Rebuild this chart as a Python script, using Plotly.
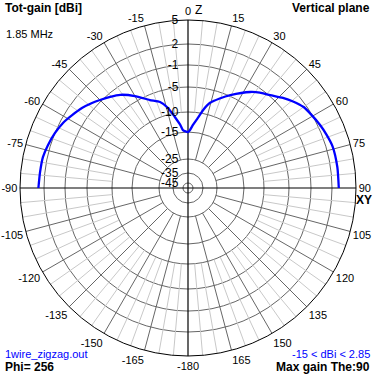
import numpy as np
import plotly.graph_objects as go

# ---- data (theta from zenith, clockwise; gain in dBi) ----
theta_deg = [-90, -84, -78, -73, -67.5, -62.5, -58, -53, -48.5, -45, -40.5, -36, -30,
             -23.5, -18, -14, -10.5, -7, -5, 0, 2, 4.5, 8, 11, 14.5, 19.5, 24.5, 33,
             37, 41.5, 46.5, 50.5, 55, 59.5, 64.5, 69, 74, 82, 90]
gain_dbi = [2.7, 2.6, 2.54, 2.31, 1.99, 1.56, 1.0, 0.4, -0.26, -0.79, -1.56, -2.42, -4.05,
            -6.02, -7.12, -8.7, -10.95, -13.1, -14.45, -15.0, -14.5, -13.2, -11.3, -9.3,
            -7.6, -6.2, -4.8, -2.55, -1.65, -0.86, 0.13, 0.87, 1.59, 1.94, 2.29, 2.56,
            2.81, 2.85, 2.85]

ring_db = [5, 2, -1, -5, -10, -15, -25, -35, -45]
ring_labels = ["5", "2", "-1", "-5", "-10", "-15", "-25", "-35", "-45"]
angle_ticks = list(range(0, 360, 15))
angle_labels = [str(a) if a < 180 else str(a - 360) for a in angle_ticks]

# ---- radial (log-like) scale of the plot: dBi -> radius units ----
SCALE_DB = [-45, -35, -25, -15, -10, -5, -1, 2, 5]
SCALE_R = [5, 15, 29, 56, 76, 101, 123, 144, 168]


def to_r(g):
    return np.interp(g, SCALE_DB, SCALE_R)


RMAX = to_r(5)
ring_r = [float(to_r(g)) for g in ring_db]

W, H = 374, 375
fig = go.Figure()

# spokes
dark_r, dark_t, light_r, light_t, blk_r, blk_t = [], [], [], [], [], []
for a in range(0, 360, 5):
    if a % 90 == 0:
        blk_r += [0, RMAX, None]
        blk_t += [a, a, None]
    elif a % 15 == 0:
        dark_r += [float(to_r(-25)), RMAX, None]
        dark_t += [a, a, None]
    else:
        light_r += [float(to_r(-10)), RMAX, None]
        light_t += [a, a, None]

fig.add_trace(go.Scatterpolar(r=light_r, theta=light_t, mode="lines",
                              line=dict(color="#c8c8c8", width=1), hoverinfo="skip"))
fig.add_trace(go.Scatterpolar(r=dark_r, theta=dark_t, mode="lines",
                              line=dict(color="#666666", width=1), hoverinfo="skip"))
fig.add_trace(go.Scatterpolar(r=blk_r, theta=blk_t, mode="lines",
                              line=dict(color="black", width=1.2), hoverinfo="skip"))

fig.add_trace(go.Scatterpolar(r=to_r(np.array(gain_dbi)), theta=theta_deg, mode="lines",
                              line=dict(color="#0000ff", width=2.3, shape="spline",
                                        smoothing=0.6), hoverinfo="skip"))

x0, x1 = 20 / W, 356 / W
y0, y1 = 1 - 356 / H, 1 - 20 / H

fig.update_layout(
    width=W, height=H,
    margin=dict(l=0, r=0, t=0, b=0),
    paper_bgcolor="white", plot_bgcolor="white",
    showlegend=False,
    font=dict(family="Liberation Sans, Arial, sans-serif", size=11, color="black"),
    polar=dict(
        domain=dict(x=[x0, x1], y=[y0, y1]),
        bgcolor="white",
        angularaxis=dict(rotation=90, direction="clockwise",
                         tickmode="array", tickvals=angle_ticks, ticktext=angle_labels,
                         showgrid=False, showline=True, linecolor="black", linewidth=1,
                         ticks="", tickfont=dict(size=11, color="black")),
        radialaxis=dict(range=[0, RMAX], angle=90, tickangle=90,
                        tickmode="array", tickvals=ring_r, ticktext=ring_labels,
                        showgrid=True, gridcolor="#666666", gridwidth=1,
                        showline=False, ticks="outside", ticklen=5,
                        tickcolor="rgba(0,0,0,0)", side="counterclockwise",
                        tickfont=dict(size=12, color="black")),
    ),
)


def ann(text, xpix, ypix, xanchor, size=11, bold=False, color="black"):
    fig.add_annotation(text=f"<b>{text}</b>" if bold else text,
                       x=xpix / W, y=1 - ypix / H, xref="paper", yref="paper",
                       xanchor=xanchor, yanchor="middle", showarrow=False,
                       font=dict(size=size, color=color))


ann("Tot-gain [dBi]", 3, 8, "left", 12, True)
ann("1.85 MHz", 4, 34, "left", 11)
ann("Vertical plane", 372, 8, "right", 12, True)
ann("Z", 198, 10, "center", 12)
ann("XY", 364, 200, "center", 12, True)
ann("1wire_zigzag.out", 3, 354, "left", 11, color="#0000ff")
ann("Phi= 256", 3, 367, "left", 12, True)
ann("-15 < dBi < 2.85", 372, 354, "right", 11, color="#0000ff")
ann("Max gain The:90", 372, 367, "right", 12, True)

fig.write_html("out.html", config={"displayModeBar": False},
               post_script="document.body.style.margin='0';document.body.style.padding='0';"
                           "document.documentElement.style.overflow='hidden';")
